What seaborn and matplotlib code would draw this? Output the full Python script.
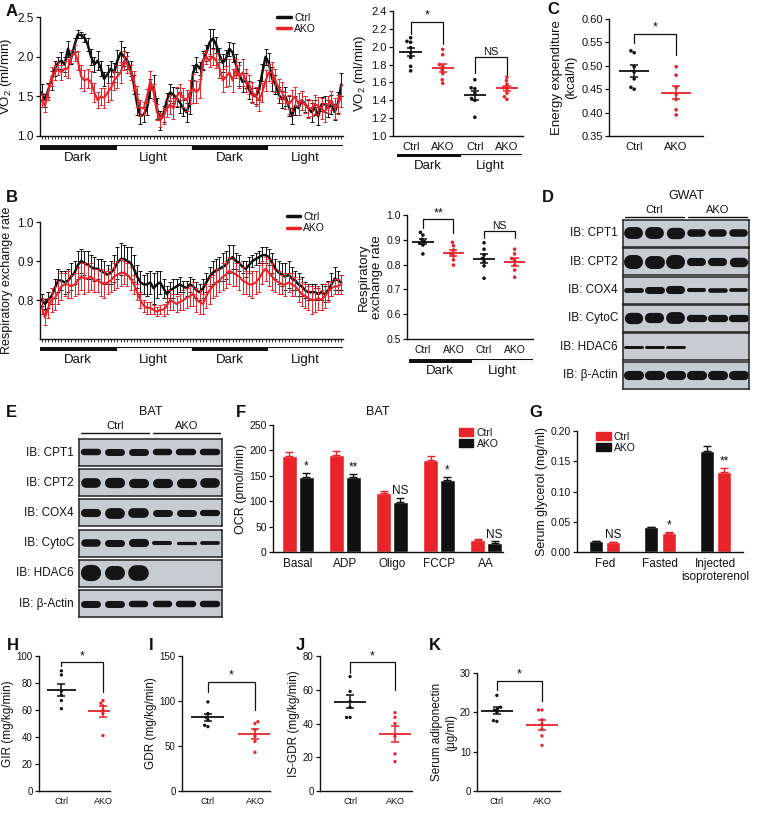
import numpy as np
import pandas as pd
import matplotlib
matplotlib.use("Agg")
import matplotlib.pyplot as plt
from matplotlib.patches import Rectangle, Patch
from matplotlib.lines import Line2D
import seaborn as sns

RED = "#e8232a"
BLACK = "#111111"
BLOT_BG = "#c6ccd1"

# ---------- A: VO2 time course (4 x 23 points: dark, light, dark, light) ----------
a_ctrl = [1.55, 1.45, 1.58, 1.70, 1.85, 1.92, 1.95, 1.90, 2.10, 1.98, 2.15, 2.28, 2.27, 2.24, 2.15, 2.00, 1.90, 1.95, 1.85, 1.72, 1.78, 1.85, 1.80,
          1.95, 2.05, 2.00, 1.95, 1.85, 1.65, 1.40, 1.25, 1.27, 1.35, 1.60, 1.62, 1.35, 1.20, 1.28, 1.45, 1.55, 1.52, 1.48, 1.42, 1.35, 1.30, 1.42,
          1.80, 1.90, 1.85, 1.95, 2.05, 2.18, 2.23, 2.15, 2.02, 1.92, 1.98, 2.10, 2.05, 1.90, 1.78, 1.68, 1.70, 1.58, 1.52, 1.50, 1.58, 1.80, 2.00,
          1.92, 1.72, 1.65, 1.52, 1.46, 1.50, 1.38, 1.25, 1.38, 1.35, 1.45, 1.40, 1.35, 1.30, 1.36, 1.25, 1.40, 1.40, 1.35, 1.40, 1.30, 1.42, 1.65]
a_ctrl_err = [0.10, 0.08, 0.09, 0.12, 0.10, 0.08, 0.11, 0.09, 0.10, 0.07, 0.09, 0.05, 0.04, 0.05, 0.08, 0.10, 0.09, 0.12, 0.10, 0.09, 0.11, 0.10, 0.12,
              0.14, 0.15, 0.12, 0.11, 0.10, 0.12, 0.13, 0.10, 0.09, 0.08, 0.12, 0.15, 0.13, 0.12, 0.10, 0.09, 0.11, 0.10, 0.12, 0.13, 0.10, 0.12, 0.14,
              0.10, 0.09, 0.08, 0.12, 0.10, 0.17, 0.12, 0.10, 0.09, 0.11, 0.10, 0.09, 0.12, 0.13, 0.15, 0.12, 0.10, 0.11, 0.09, 0.10, 0.12, 0.11, 0.10,
              0.12, 0.15, 0.12, 0.10, 0.11, 0.12, 0.13, 0.10, 0.12, 0.09, 0.12, 0.10, 0.11, 0.12, 0.10, 0.11, 0.09, 0.10, 0.11, 0.12, 0.10, 0.13, 0.15]
a_ako = [1.45, 1.38, 1.55, 1.75, 1.80, 1.85, 1.80, 1.85, 1.85, 2.00, 2.05, 1.95, 1.75, 1.70, 1.72, 1.68, 1.55, 1.45, 1.50, 1.48, 1.55, 1.60, 1.70,
         1.75, 1.80, 1.95, 1.90, 1.80, 1.70, 1.50, 1.35, 1.35, 1.50, 1.70, 1.55, 1.30, 1.20, 1.25, 1.35, 1.40, 1.35, 1.50, 1.55, 1.48, 1.45, 1.55,
         1.60, 1.55, 1.60, 1.95, 2.00, 1.95, 2.00, 1.95, 1.85, 1.70, 1.75, 1.80, 1.70, 1.85, 1.75, 1.80, 1.70, 1.65, 1.55, 1.50, 1.45, 1.55, 1.70,
         1.80, 1.80, 1.70, 1.60, 1.55, 1.45, 1.40, 1.45, 1.50, 1.40, 1.45, 1.40, 1.35, 1.35, 1.40, 1.38, 1.35, 1.30, 1.40, 1.45, 1.35, 1.40, 1.50]
a_ako_err = [0.09, 0.08, 0.10, 0.12, 0.10, 0.08, 0.09, 0.10, 0.12, 0.08, 0.10, 0.12, 0.15, 0.13, 0.12, 0.14, 0.12, 0.10, 0.11, 0.13, 0.12, 0.14, 0.12,
             0.15, 0.13, 0.12, 0.11, 0.10, 0.12, 0.13, 0.10, 0.08, 0.09, 0.12, 0.11, 0.10, 0.09, 0.10, 0.11, 0.12, 0.13, 0.12, 0.10, 0.12, 0.13, 0.15,
             0.18, 0.14, 0.12, 0.10, 0.09, 0.08, 0.10, 0.09, 0.12, 0.15, 0.13, 0.17, 0.14, 0.12, 0.15, 0.17, 0.14, 0.12, 0.13, 0.12, 0.14, 0.12, 0.13,
             0.11, 0.13, 0.14, 0.12, 0.13, 0.11, 0.12, 0.13, 0.12, 0.14, 0.12, 0.11, 0.12, 0.10, 0.12, 0.11, 0.13, 0.12, 0.11, 0.12, 0.13, 0.12, 0.14]

# ---------- B: RER time course ----------
b_ctrl = [0.80, 0.79, 0.80, 0.81, 0.83, 0.85, 0.85, 0.845, 0.85, 0.86, 0.87, 0.89, 0.90, 0.895, 0.89, 0.885, 0.88, 0.88, 0.875, 0.87, 0.865, 0.87, 0.88,
          0.895, 0.905, 0.905, 0.90, 0.895, 0.88, 0.86, 0.845, 0.84, 0.84, 0.845, 0.83, 0.84, 0.845, 0.83, 0.815, 0.825, 0.83, 0.835, 0.84, 0.835, 0.83, 0.84,
          0.835, 0.825, 0.82, 0.83, 0.845, 0.86, 0.87, 0.875, 0.88, 0.885, 0.89, 0.905, 0.91, 0.90, 0.895, 0.885, 0.88, 0.89, 0.90, 0.905, 0.91, 0.915, 0.915,
          0.91, 0.895, 0.88, 0.87, 0.865, 0.86, 0.865, 0.855, 0.85, 0.84, 0.835, 0.825, 0.82, 0.82, 0.82, 0.815, 0.82, 0.815, 0.825, 0.84, 0.855, 0.85, 0.845]
b_ctrl_err = [0.015, 0.012, 0.02, 0.02, 0.025, 0.03, 0.025, 0.03, 0.03, 0.035, 0.03, 0.035, 0.03, 0.03, 0.035, 0.03, 0.03, 0.025, 0.03, 0.03, 0.025, 0.03, 0.035,
              0.04, 0.04, 0.035, 0.035, 0.04, 0.035, 0.03, 0.03, 0.025, 0.03, 0.03, 0.04, 0.035, 0.03, 0.025, 0.02, 0.02, 0.025, 0.02, 0.02, 0.015, 0.02, 0.02,
              0.02, 0.02, 0.02, 0.025, 0.025, 0.025, 0.03, 0.03, 0.03, 0.035, 0.035, 0.035, 0.03, 0.02, 0.02, 0.015, 0.02, 0.02, 0.015, 0.015, 0.015, 0.02, 0.02,
              0.02, 0.025, 0.025, 0.03, 0.03, 0.035, 0.035, 0.03, 0.025, 0.03, 0.025, 0.02, 0.02, 0.02, 0.02, 0.015, 0.02, 0.02, 0.025, 0.03, 0.03, 0.025, 0.02]
b_ako = [0.785, 0.755, 0.78, 0.80, 0.805, 0.82, 0.835, 0.84, 0.84, 0.835, 0.84, 0.85, 0.86, 0.855, 0.855, 0.86, 0.85, 0.85, 0.845, 0.84, 0.845, 0.85, 0.86,
         0.865, 0.87, 0.87, 0.865, 0.855, 0.84, 0.82, 0.80, 0.785, 0.78, 0.78, 0.775, 0.77, 0.775, 0.775, 0.785, 0.80, 0.795, 0.79, 0.795, 0.80, 0.805, 0.81,
         0.815, 0.80, 0.795, 0.79, 0.81, 0.825, 0.835, 0.845, 0.85, 0.86, 0.865, 0.875, 0.87, 0.865, 0.86, 0.85, 0.845, 0.84, 0.84, 0.845, 0.855, 0.87, 0.88,
         0.87, 0.86, 0.85, 0.845, 0.84, 0.84, 0.845, 0.84, 0.835, 0.825, 0.815, 0.81, 0.805, 0.80, 0.80, 0.805, 0.80, 0.81, 0.82, 0.83, 0.835, 0.835, 0.84]
b_ako_err = [0.02, 0.02, 0.025, 0.03, 0.03, 0.03, 0.035, 0.03, 0.035, 0.03, 0.03, 0.035, 0.035, 0.04, 0.035, 0.035, 0.03, 0.03, 0.035, 0.035, 0.03, 0.03, 0.035,
             0.035, 0.035, 0.03, 0.03, 0.03, 0.025, 0.02, 0.02, 0.015, 0.015, 0.015, 0.012, 0.012, 0.012, 0.015, 0.02, 0.025, 0.02, 0.02, 0.02, 0.025, 0.025, 0.025,
             0.03, 0.03, 0.03, 0.025, 0.03, 0.035, 0.03, 0.035, 0.03, 0.035, 0.035, 0.035, 0.035, 0.03, 0.035, 0.035, 0.03, 0.03, 0.035, 0.03, 0.035, 0.03, 0.03,
             0.035, 0.035, 0.03, 0.03, 0.025, 0.03, 0.025, 0.03, 0.025, 0.03, 0.03, 0.03, 0.03, 0.035, 0.03, 0.03, 0.025, 0.03, 0.025, 0.02, 0.02, 0.02, 0.025]
periods = ["Dark", "Light", "Dark", "Light"]
summary_periods = ["Dark", "Light"]

# ---------- dot plots ----------
a_dark_ctrl = [2.10, 2.06, 2.05, 1.99, 1.93, 1.88, 1.78, 1.73]
a_dark_ako = [1.97, 1.91, 1.80, 1.78, 1.74, 1.70, 1.63, 1.59]
a_light_ctrl = [1.63, 1.54, 1.53, 1.48, 1.42, 1.40, 1.21]
a_light_ako = [1.66, 1.62, 1.58, 1.54, 1.53, 1.48, 1.44, 1.41]
c_ctrl = [0.532, 0.528, 0.498, 0.487, 0.472, 0.454, 0.450]
c_ako = [0.498, 0.480, 0.454, 0.439, 0.428, 0.406, 0.395]
b_dark_ctrl = [0.930, 0.919, 0.902, 0.892, 0.886, 0.879, 0.843]
b_dark_ako = [0.890, 0.876, 0.859, 0.845, 0.835, 0.819, 0.798]
b_light_ctrl = [0.888, 0.862, 0.839, 0.825, 0.812, 0.795, 0.745]
b_light_ako = [0.862, 0.843, 0.825, 0.816, 0.798, 0.778, 0.749]
h_ctrl = [89, 86, 74, 71, 67, 61]
h_ako = [67, 65, 63, 60, 57.5, 41]
i_ctrl = [99, 86, 82, 79, 73, 71.5]
i_ako = [77, 75, 68, 61, 55, 43]
j_ctrl = [67.8, 59, 53, 49.6, 43.6, 43.6]
j_ako = [46.4, 43.7, 40, 32.4, 22, 17.4]
k_ctrl = [24.3, 21.3, 20.9, 20.6, 20.0, 17.9, 17.7]
k_ako = [20.6, 20.6, 18.1, 17.0, 15.7, 14.0, 11.6]

# ---------- bar charts ----------
f_cats = ["Basal", "ADP", "Oligo", "FCCP", "AA"]
f_ctrl = [189, 191, 117, 181, 24]
f_ctrl_err = [7, 8, 4, 8, 2]
f_ako = [148, 147, 98, 142, 17]
f_ako_err = [7, 6, 8, 6, 4]
f_sig = ["*", "**", "NS", "*", "NS"]
g_cats = ["Fed", "Fasted", "Injected\nisoproterenol"]
g_black = [0.018, 0.041, 0.167]
g_black_err = [0.001, 0.001, 0.009]
g_red = [0.016, 0.032, 0.133]
g_red_err = [0.001, 0.001, 0.006]
g_sig = ["NS", "*", "**"]

# ---------- western blots (band thickness per lane, fraction of strip) ----------
blot_labels = ["IB: CPT1", "IB: CPT2", "IB: COX4", "IB: CytoC", "IB: HDAC6", "IB: β-Actin"]
lane_groups = ["Ctrl", "AKO"]
gwat_bands = [[0.44, 0.44, 0.42, 0.28, 0.28, 0.28],
              [0.52, 0.48, 0.52, 0.30, 0.30, 0.35],
              [0.18, 0.26, 0.30, 0.15, 0.17, 0.14],
              [0.42, 0.38, 0.44, 0.27, 0.27, 0.27],
              [0.11, 0.11, 0.11, 0.0, 0.0, 0.0],
              [0.34, 0.34, 0.34, 0.34, 0.34, 0.34]]
bat_bands = [[0.24, 0.26, 0.26, 0.24, 0.24, 0.24],
             [0.36, 0.38, 0.34, 0.34, 0.34, 0.36],
             [0.30, 0.40, 0.36, 0.26, 0.26, 0.23],
             [0.28, 0.26, 0.30, 0.15, 0.12, 0.14],
             [0.60, 0.52, 0.58, 0.0, 0.0, 0.0],
             [0.26, 0.26, 0.24, 0.24, 0.24, 0.24]]

sns.set_theme(style="ticks")
plt.rcParams["font.family"] = ["Liberation Sans", "DejaVu Sans"]
plt.rcParams["mathtext.fontset"] = "custom"
plt.rcParams["mathtext.rm"] = "Liberation Sans"
plt.rcParams["text.color"] = BLACK
plt.rcParams["axes.labelcolor"] = BLACK
plt.rcParams["axes.edgecolor"] = BLACK
plt.rcParams["xtick.color"] = BLACK
plt.rcParams["ytick.color"] = BLACK
plt.rcParams["axes.linewidth"] = 1.0

W, H = 764, 813
fig = plt.figure(figsize=(W / 100, H / 100), dpi=100)


def box(l, t, r, b):
    return fig.add_axes([l / W, 1 - b / H, (r - l) / W, (b - t) / H])


def finish(ax, fs):
    sns.despine(ax=ax)
    ax.tick_params(axis="both", labelsize=fs, length=3, width=0.9, pad=1.5)
    ax.set_xlabel("")


def letter(x, y, s):
    fig.text(x / W, 1 - y / H, s, fontsize=12, fontweight="bold", va="center", ha="left")


def time_panel(ax, ctrl, ctrl_err, ako, ako_err):
    x = np.arange(len(ctrl))
    for y, e, c, lw, lab in [(ctrl, ctrl_err, BLACK, 1.8, "Ctrl"), (ako, ako_err, RED, 1.5, "AKO")]:
        ax.errorbar(x, y, yerr=e, fmt="none", ecolor=c, elinewidth=0.7, capsize=1.2, capthick=0.7)
        sns.lineplot(x=x, y=y, color=c, lw=lw, ax=ax, label=lab)
    ax.set_xlim(-0.5, len(ctrl) - 0.5)
    ax.set_xticks(x)
    ax.set_xticklabels([])
    finish(ax, 8.5)
    ax.tick_params(axis="x", length=2.5, width=0.6)


def period_bar(l, t, r, b, fs, labels):
    ax = box(l, t, r, b)
    ax.set_xlim(0, len(labels))
    ax.set_ylim(0, 1)
    ax.axis("off")
    for i, p in enumerate(labels):
        ax.add_patch(Rectangle((i, 0), 1, 1, fc=BLACK if p == "Dark" else "white", ec=BLACK, lw=0.8))
        ax.annotate(p, (i + 0.5, 0), xytext=(0, -2), textcoords="offset points",
                    ha="center", va="top", fontsize=fs)


def dot_panel(ax, groups, colors, labels, fs, size):
    names = [f"g{i}" for i in range(len(groups))]
    df = pd.DataFrame({"grp": np.repeat(names, [len(g) for g in groups]),
                       "val": np.concatenate(groups)})
    sns.swarmplot(data=df, x="grp", y="val", hue="grp", order=names,
                  palette=dict(zip(names, colors)), size=size, legend=False, ax=ax, linewidth=0)
    for i, (g, c) in enumerate(zip(groups, colors)):
        m = np.mean(g)
        s = np.std(g, ddof=1) / np.sqrt(len(g))
        ax.hlines(m, i - 0.35, i + 0.35, color=c, lw=1.3)
        ax.errorbar(i, m, yerr=s, color=c, capsize=3, elinewidth=1.1, capthick=1.1)
    ax.set_xticks(range(len(groups)), labels)
    ax.set_ylabel("")
    finish(ax, fs)
    ax.tick_params(axis="x", length=0, pad=4)


def bracket(ax, x0, x1, y0, y1, top, text, fs=9):
    ax.plot([x0, x0, x1, x1], [y0, top, top, y1], color=BLACK, lw=0.9, clip_on=False)
    ax.text((x0 + x1) / 2, top, text, ha="center", va="bottom", fontsize=fs)


def bar_panel(ax, cats, series, colors, errs, sigs, sig_idx, width, gap, fs):
    names = [f"s{i}" for i in range(len(series))]
    df = pd.DataFrame({"cat": np.tile(cats, len(series)),
                       "grp": np.repeat(names, len(cats)),
                       "val": np.concatenate(series)})
    sns.barplot(data=df, x="cat", y="val", hue="grp", order=cats, hue_order=names,
                palette=dict(zip(names, colors)), width=width, gap=gap, errorbar=None,
                saturation=1, legend=False, ax=ax)
    bars = list(ax.containers[:len(series)])
    for k, (cont, err, c) in enumerate(zip(bars, errs, colors)):
        for bar, e, s in zip(cont, err, sigs):
            x = bar.get_x() + bar.get_width() / 2
            h = bar.get_height()
            ax.errorbar(x, h, yerr=[[0], [e]], color=c, capsize=3, elinewidth=1, capthick=1)
            if k == sig_idx:
                ax.annotate(s, (x, h + e), xytext=(0, 0.5), textcoords="offset points",
                            ha="center", va="bottom", fontsize=8.5)
    ax.set_ylabel("")
    finish(ax, fs)
    ax.tick_params(axis="x", length=0, pad=4, labelsize=8.5)


def blot(l, r, t, pitch, h, bands, label_x, title, title_y, fill):
    lanes = len(bands[0])
    lane_px = (r - l) / lanes
    for k, (lab, row) in enumerate(zip(blot_labels, bands)):
        top = t + k * pitch
        ax = box(l, top, r, top + h)
        ax.set_facecolor(BLOT_BG)
        ax.set_xlim(0, lanes)
        ax.set_ylim(0, 1)
        ax.set_xticks([])
        ax.set_yticks([])
        for sp in ax.spines.values():
            sp.set_color("#222222")
            sp.set_linewidth(1.1)
        for i, th in enumerate(row):
            if th <= 0:
                continue
            cap = th * h / 2 / lane_px
            half = max(fill / 2 - cap, 0.03)
            ax.plot([i + 0.5 - half, i + 0.5 + half], [0.5, 0.5], color="#151515",
                    lw=th * h * 0.72, solid_capstyle="round")
        fig.text(label_x / W, 1 - (top + h / 2) / H, lab, ha="right", va="center", fontsize=8.5)
    fig.text((l + r) / 2 / W, 1 - title_y / H, title, ha="center", va="center", fontsize=9)
    per = lanes // len(lane_groups)
    for g, name in enumerate(lane_groups):
        x0 = l + g * per * lane_px + 2
        x1 = l + (g + 1) * per * lane_px - 2
        y = title_y + 21
        fig.add_artist(Line2D([x0 / W, x1 / W], [1 - y / H] * 2, transform=fig.transFigure,
                              color=BLACK, lw=1.0))
        fig.text((x0 + x1) / 2 / W, 1 - (y - 7) / H, name, ha="center", va="center", fontsize=8)


# ---------------- A ----------------
ax = box(40, 17, 343, 136)
time_panel(ax, a_ctrl, a_ctrl_err, a_ako, a_ako_err)
ax.set_ylim(1.0, 2.5)
ax.set_yticks([1.0, 1.5, 2.0, 2.5], ["1.0", "1.5", "2.0", "2.5"])
ax.set_ylabel("VO$_2$ (ml/min)", fontsize=9.5, labelpad=2)
leg = ax.legend(loc="upper left", bbox_to_anchor=(0.77, 1.07), frameon=False, fontsize=7.5,
                handlelength=1.3, handletextpad=0.3, labelspacing=0.1, borderaxespad=0)
for ln in leg.get_lines():
    ln.set_linewidth(2.5)
period_bar(40, 145, 343, 149.5, 9.5, periods)
letter(6, 11, "A")

ax = box(393, 11, 523, 136)
dot_panel(ax, [a_dark_ctrl, a_dark_ako, a_light_ctrl, a_light_ako], [BLACK, RED, BLACK, RED],
          ["Ctrl", "AKO", "Ctrl", "AKO"], 8, 2.6)
ax.set_xlim(-0.55, 3.5)
ax.set_ylim(1.0, 2.4)
yt = [1.0, 1.2, 1.4, 1.6, 1.8, 2.0, 2.2, 2.4]
ax.set_yticks(yt, [f"{v:.1f}" for v in yt])
ax.set_ylabel("VO$_2$ (ml/min)", fontsize=9.5, labelpad=2)
bracket(ax, 0, 1, 2.14, 2.03, 2.28, "*")
bracket(ax, 2, 3, 1.71, 1.68, 1.88, "NS", 8)
period_bar(397, 154, 522, 157.5, 9.5, summary_periods)

# ---------------- C ----------------
ax = box(609, 19, 703, 136)
dot_panel(ax, [c_ctrl, c_ako], [BLACK, RED], ["Ctrl", "AKO"], 8, 2.6)
ax.set_xlim(-0.6, 1.64)
ax.set_ylim(0.35, 0.60)
yt = [0.35, 0.40, 0.45, 0.50, 0.55, 0.60]
ax.set_yticks(yt, [f"{v:.2f}" for v in yt])
ax.set_ylabel("Energy expenditure\n(kcal/h)", fontsize=9.5, labelpad=3)
bracket(ax, 0, 1, 0.549, 0.523, 0.569, "*")
letter(547, 10, "C")

# ---------------- B ----------------
ax = box(40, 222, 343, 339)
time_panel(ax, b_ctrl, b_ctrl_err, b_ako, b_ako_err)
ax.set_ylim(0.7, 1.0)
ax.set_yticks([0.8, 0.9, 1.0], ["0.8", "0.9", "1.0"])
ax.set_ylabel("Respiratory exchange rate", fontsize=9, labelpad=3)
leg = ax.legend(loc="upper left", bbox_to_anchor=(0.8, 1.12), frameon=False, fontsize=7.5,
                handlelength=1.3, handletextpad=0.3, labelspacing=0.1, borderaxespad=0)
for ln in leg.get_lines():
    ln.set_linewidth(2.5)
period_bar(40, 347.5, 343, 351.5, 9.5, periods)
letter(6, 197, "B")

ax = box(407, 215, 533, 339)
dot_panel(ax, [b_dark_ctrl, b_dark_ako, b_light_ctrl, b_light_ako], [BLACK, RED, BLACK, RED],
          ["Ctrl", "AKO", "Ctrl", "AKO"], 7.5, 2.6)
ax.set_xlim(-0.52, 3.6)
ax.set_ylim(0.5, 1.0)
yt = [0.5, 0.6, 0.7, 0.8, 0.9, 1.0]
ax.set_yticks(yt, [f"{v:.1f}" for v in yt])
ax.set_ylabel("Respiratory\nexchange rate", fontsize=9.5, labelpad=2)
bracket(ax, 0, 1, 0.949, 0.926, 0.984, "**")
bracket(ax, 2, 3, 0.909, 0.909, 0.935, "NS", 7.5)
period_bar(409, 359, 533, 362.5, 9.5, summary_periods)

# ---------------- D ----------------
blot(623, 749, 220, 28.3, 27, gwat_bands, 618, "GWAT", 196, 0.92)
letter(542, 198, "D")

# ---------------- E ----------------
blot(79, 222, 439, 30.2, 27, bat_bands, 74, "BAT", 412, 0.84)
letter(6, 412, "E")

# ---------------- F ----------------
ax = box(273, 425, 503, 552)
bar_panel(ax, f_cats, [f_ctrl, f_ako], [RED, BLACK], [f_ctrl_err, f_ako_err], f_sig, 1,
          0.72, 0.08, 7.5)
ax.set_xlim(-0.53, 4.36)
ax.set_ylim(0, 250)
ax.set_yticks([0, 50, 100, 150, 200, 250])
ax.set_ylabel("OCR (pmol/min)", fontsize=9, labelpad=2)
ax.legend(handles=[Patch(color=RED, label="Ctrl"), Patch(color=BLACK, label="AKO")],
          loc="upper left", bbox_to_anchor=(0.79, 1.01), frameon=False, fontsize=7.5,
          handlelength=1.4, handleheight=0.8, handletextpad=0.3, labelspacing=0.1, borderaxespad=0)
fig.text(378 / W, 1 - 412 / H, "BAT", ha="center", va="center", fontsize=9)
letter(236, 412, "F")

# ---------------- G ----------------
ax = box(577, 431, 743, 552)
bar_panel(ax, g_cats, [g_black, g_red], [BLACK, RED], [g_black_err, g_red_err], g_sig, 1,
          0.63, 0.2, 7.5)
ax.set_xlim(-0.5, 2.5)
ax.set_ylim(0, 0.20)
yt = [0.0, 0.05, 0.10, 0.15, 0.20]
ax.set_yticks(yt, [f"{v:.2f}" for v in yt])
ax.set_ylabel("Serum glycerol (mg/ml)", fontsize=9, labelpad=2)
ax.legend(handles=[Patch(color=RED, label="Ctrl"), Patch(color=BLACK, label="AKO")],
          loc="upper left", bbox_to_anchor=(0.09, 1.03), frameon=False, fontsize=7.5,
          handlelength=1.4, handleheight=0.8, handletextpad=0.3, labelspacing=0.1, borderaxespad=0)
letter(529, 412, "G")

# ---------------- H-K ----------------
small = [
    ((39, 656, 110, 791), h_ctrl, h_ako, (-0.54, 1.17), (0, 100), [0, 20, 40, 60, 80, 100],
     "GIR (mg/kg/min)", (92.6, 73.6, 95.3), "H", 7),
    ((182, 656, 270, 791), i_ctrl, i_ako, (-0.55, 1.32), (0, 150), [0, 50, 100, 150],
     "GDR (mg/kg/min)", (110, 90, 121.5), "I", 149),
    ((320, 656, 412, 791), j_ctrl, j_ako, (-0.67, 1.38), (0, 80), [0, 20, 40, 60, 80],
     "IS-GDR (mg/kg/min)", (69.7, 59.8, 76.2), "J", 296),
    ((477, 673, 560, 791), k_ctrl, k_ako, (-0.44, 1.40), (0, 30), [0, 10, 20, 30],
     "Serum adiponectin\n(μg/ml)", (25.75, 22.9, 28.0), "K", 429),
]
for rect, ctrl, ako, xl, yl, yt, ylab, br, let, lx in small:
    ax = box(*rect)
    dot_panel(ax, [ctrl, ako], [BLACK, RED], ["Ctrl", "AKO"], 7, 2.4)
    ax.set_xlim(*xl)
    ax.set_ylim(*yl)
    ax.set_yticks(yt)
    ax.tick_params(axis="x", labelsize=6.5)
    ax.set_ylabel(ylab, fontsize=8.5, labelpad=2)
    bracket(ax, 0, 1, br[0], br[1], br[2], "*", 9)
    letter(lx, 645, let)

fig.savefig("out.png", dpi=100)
